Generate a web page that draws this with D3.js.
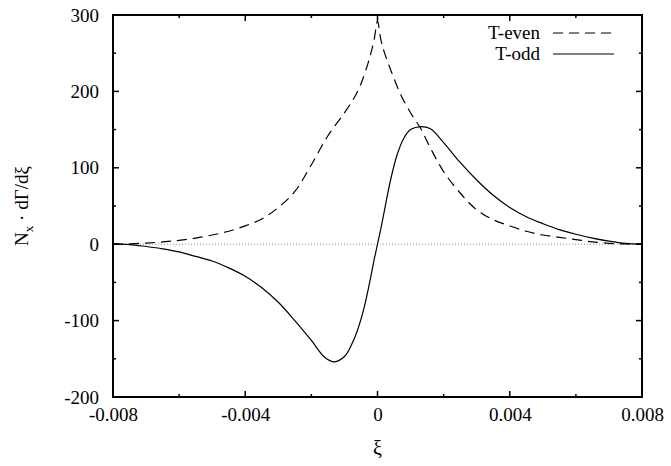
<!DOCTYPE html>
<html>
<head>
<meta charset="utf-8">
<script src="https://cdn.jsdelivr.net/npm/d3@7"></script>
<style>
  html, body { margin: 0; padding: 0; background: #fff; }
  svg { display: block; }
  svg text { font-family: "Liberation Serif", "Times New Roman", Tinos, "Nimbus Roman", "DejaVu Serif", "Noto Serif", serif !important; fill: #000; }
</style>
</head>
<body>
<svg id="chart" width="671" height="466"></svg>
<script>
// ---- data ----
const evenXi  = [-0.008,-0.0075,-0.007,-0.0065,-0.006,-0.0055,-0.005,-0.0045,-0.004,-0.0035,-0.003,-0.0025,-0.002,-0.0015,-0.001,-0.0007,-0.0005,-0.0003,-0.0002,-0.0001,0,0.0001,0.0002,0.0004,0.0007,0.001,0.0013,0.0016,0.002,0.0025,0.003,0.0035,0.004,0.0045,0.005,0.0055,0.006,0.0065,0.007,0.0075,0.008];
const evenVal = [0,0.5,1.5,3,5,8,12,17,24,33,48,69,104,142,172,192,210,235,250,268,292,268,252,228,196,172,152,126,95,67,45,32,24,17,12,9,6,3,1.2,0.3,0];
const oddXi   = [-0.008,-0.0075,-0.007,-0.0065,-0.006,-0.0055,-0.005,-0.0045,-0.004,-0.0035,-0.003,-0.0025,-0.002,-0.0016,-0.0013,-0.001,-0.0008,-0.0006,-0.0004,-0.0002,-0.0001,0,0.0001,0.0002,0.0004,0.0006,0.0008,0.001,0.0013,0.0016,0.002,0.0025,0.003,0.0035,0.004,0.0045,0.005,0.0055,0.006,0.0065,0.007,0.0075,0.008];
const oddVal  = [0,-0.5,-3,-6,-10,-16,-22,-31,-42,-57,-76,-100,-126,-148,-154,-147,-133,-112,-82,-42,-20,0,20,42,85,118,139,150,154,151,133,107,84,64,48,36,27,19,13,8,4,1,0];
const xTickVals = [-0.008,-0.006,-0.004,-0.002,0,0.002,0.004,0.006,0.008];
const xTickLabels = ["-0.008","","-0.004","","0","","0.004","","0.008"];
const yTickVals = [-200,-150,-100,-50,0,50,100,150,200,250,300];
const yTickLabels = ["-200","","-100","","0","","100","","200","","300"];
const seriesNames = ["T-even","T-odd"];

// ---- layout ----
const W = 671, H = 466;
const m = {left: 113, right: 29, top: 15, bottom: 69};
const svg = d3.select("#chart");
const x = d3.scaleLinear().domain([-0.008, 0.008]).range([m.left, W - m.right]);
const y = d3.scaleLinear().domain([-200, 300]).range([H - m.bottom, m.top]);
const x0 = m.left, x1 = W - m.right, y0 = H - m.bottom, y1 = m.top;

// zero line
svg.append("line")
  .attr("x1", x0).attr("x2", x1).attr("y1", y(0)).attr("y2", y(0))
  .attr("stroke", "#888").attr("stroke-width", 1).attr("stroke-dasharray", "1,2");

// curves
const evenData = evenXi.map((d, i) => [d, evenVal[i]]);
const oddData = oddXi.map((d, i) => [d, oddVal[i]]);
const line = d3.line().x(d => x(d[0])).y(d => y(d[1])).curve(d3.curveCatmullRom.alpha(0.5));
svg.append("path").attr("d", line(evenData)).attr("fill", "none")
  .attr("stroke", "#000").attr("stroke-width", 1.2).attr("stroke-dasharray", "10,6");
svg.append("path").attr("d", line(oddData)).attr("fill", "none")
  .attr("stroke", "#000").attr("stroke-width", 1.2);

// axes with inward ticks
const fontSize = 19;
const bottomAxis = d3.axisBottom(x).tickValues(xTickVals).tickFormat((d, i) => xTickLabels[i]).tickSizeInner(0).tickSizeOuter(0).tickPadding(20);
const gB = svg.append("g").attr("transform", `translate(0,${y0})`).call(bottomAxis);
gB.attr("font-family", null);
gB.select(".domain").remove();
gB.selectAll("text").attr("font-size", fontSize).attr("dy", "0.2em");

const leftAxis = d3.axisLeft(y).tickValues(yTickVals).tickFormat((d, i) => yTickLabels[i]).tickSizeInner(0).tickSizeOuter(0).tickPadding(14);
const gL = svg.append("g").attr("transform", `translate(${x0},0)`).call(leftAxis);
gL.attr("font-family", null);
gL.select(".domain").remove();
gL.selectAll("text").attr("font-size", fontSize);

// tick marks on all sides (inward)
const ticksG = svg.append("g").attr("stroke", "#000").attr("stroke-width", 1.5);
xTickVals.forEach((v, i) => {
  const len = xTickLabels[i] ? 6 : 3;
  ticksG.append("line").attr("x1", x(v)).attr("x2", x(v)).attr("y1", y0).attr("y2", y0 - len);
  ticksG.append("line").attr("x1", x(v)).attr("x2", x(v)).attr("y1", y1).attr("y2", y1 + len);
});
yTickVals.forEach((v, i) => {
  const len = yTickLabels[i] ? 6 : 3;
  ticksG.append("line").attr("x1", x0).attr("x2", x0 + len).attr("y1", y(v)).attr("y2", y(v));
  ticksG.append("line").attr("x1", x1).attr("x2", x1 - len).attr("y1", y(v)).attr("y2", y(v));
});

// frame
svg.append("rect").attr("x", x0).attr("y", y1).attr("width", x1 - x0).attr("height", y0 - y1)
  .attr("fill", "none").attr("stroke", "#000").attr("stroke-width", 2);

// axis titles
svg.append("text").attr("x", (x0 + x1) / 2).attr("y", 455).attr("text-anchor", "middle")
  .attr("font-size", 20).text("ξ");
const yl = svg.append("text").attr("transform", "translate(28,206) rotate(-90)")
  .attr("text-anchor", "middle").attr("font-size", 19);
yl.append("tspan").text("N");
yl.append("tspan").attr("font-size", 13).attr("dy", 5).text("x");
yl.append("tspan").attr("dy", -5).text(" · dΓ/dξ");

// legend
const legY = [33, 54];
seriesNames.forEach((name, i) => {
  svg.append("text").attr("x", 540).attr("y", legY[i] + 6).attr("text-anchor", "end")
    .attr("font-size", fontSize).text(name);
  const l = svg.append("line").attr("x1", 553).attr("x2", 614).attr("y1", legY[i]).attr("y2", legY[i])
    .attr("stroke", "#000").attr("stroke-width", 1.2);
  if (i === 0) l.attr("stroke-dasharray", "10,6");
});
</script>
</body>
</html>
